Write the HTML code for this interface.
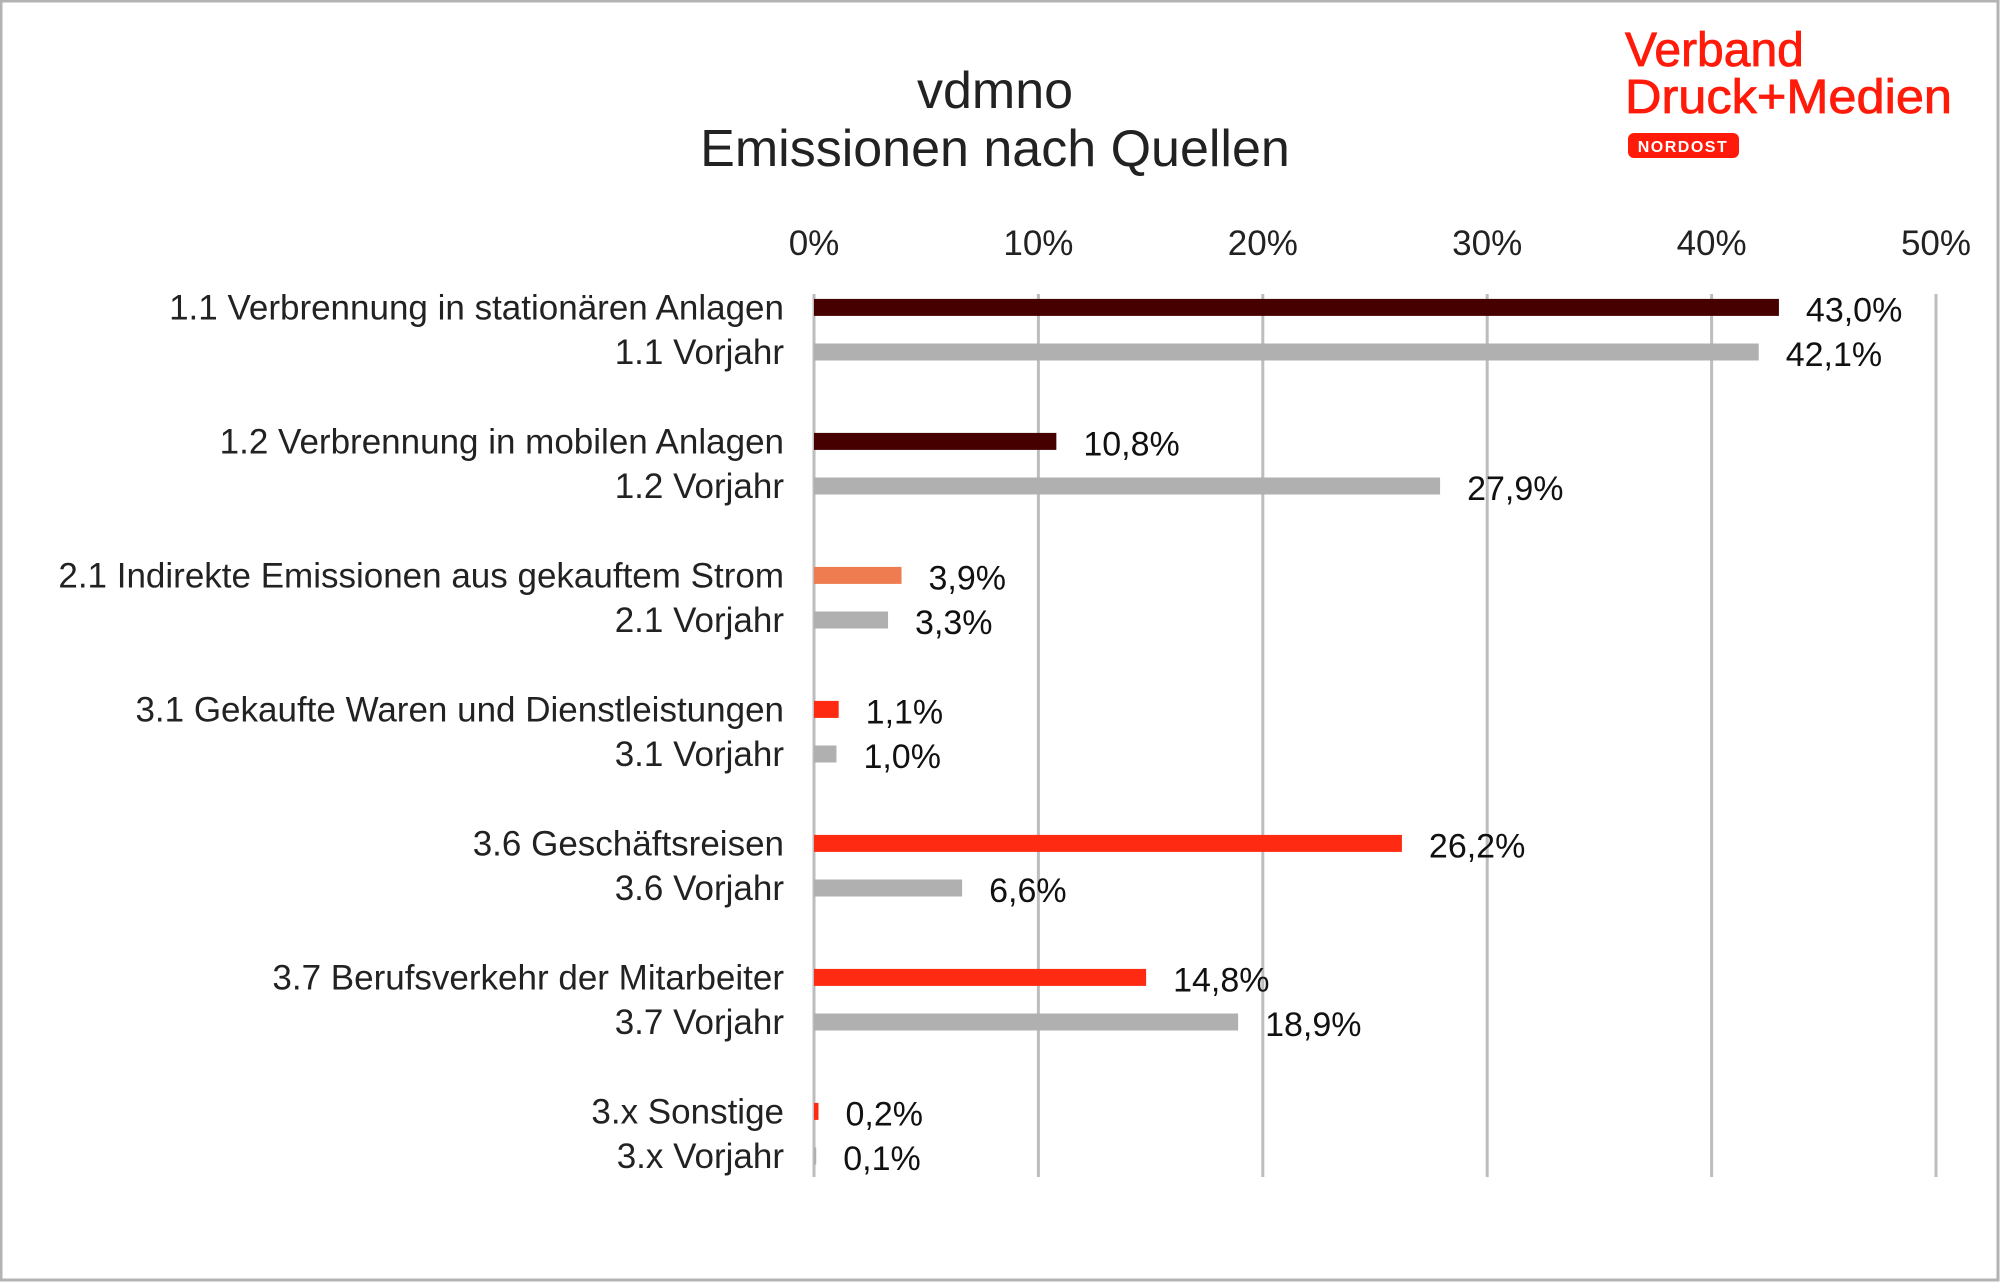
<!DOCTYPE html>
<html><head><meta charset="utf-8"><style>
html,body{margin:0;padding:0;background:#fff;}
svg{display:block;font-family:"Liberation Sans",Arial,sans-serif;}
</style></head><body>
<svg id="chart" width="2000" height="1282" viewBox="0 0 2000 1282" xmlns="http://www.w3.org/2000/svg">
<rect x="1" y="1" width="1997" height="1279" fill="#fff" stroke="#b3b3b3" stroke-width="3"/>
<text x="995" y="108" font-size="52" text-anchor="middle" fill="#222">vdmno</text>
<text x="995" y="166" font-size="52" text-anchor="middle" fill="#222">Emissionen nach Quellen</text>
<g>
<text x="1625" y="66" font-size="48" fill="#ff1a0a" stroke="#ff1a0a" stroke-width="0.8">Verband</text>
<text x="1625" y="113" font-size="48" fill="#ff1a0a" stroke="#ff1a0a" stroke-width="0.8" textLength="327" lengthAdjust="spacingAndGlyphs">Druck+Medien</text>
<rect x="1628" y="133" width="111" height="25" rx="6" fill="#ff1a0a"/>
<text x="1683" y="152" font-size="16" font-weight="bold" fill="#fff" text-anchor="middle" letter-spacing="1.5">NORDOST</text>
</g>
<g id="grid"></g><g id="bars"></g>
</svg>
<script>
const categories=["1.1 Verbrennung in stationären Anlagen","1.1 Vorjahr","1.2 Verbrennung in mobilen Anlagen","1.2 Vorjahr","2.1 Indirekte Emissionen aus gekauftem Strom","2.1 Vorjahr","3.1 Gekaufte Waren und Dienstleistungen","3.1 Vorjahr","3.6 Geschäftsreisen","3.6 Vorjahr","3.7 Berufsverkehr der Mitarbeiter","3.7 Vorjahr","3.x Sonstige","3.x Vorjahr"];
const values=[43.0,42.1,10.8,27.9,3.9,3.3,1.1,1.0,26.2,6.6,14.8,18.9,0.2,0.1];
const barColors=["#460000","#b0b0b0","#460000","#b0b0b0","#ee7c50","#b0b0b0","#ff2a12","#b0b0b0","#ff2a12","#b0b0b0","#ff2a12","#b0b0b0","#ff2a12","#b0b0b0"];
const ticks=[0,10,20,30,40,50];
const tickLabels=["0%","10%","20%","30%","40%","50%"];
const NS="http://www.w3.org/2000/svg";
const x0=814,pxPer=22.44;
const xs=v=>x0+v*pxPer;
const ys=i=>307.4+Math.floor(i/2)*134+(i%2)*44.6;
function mk(tag,attrs,parent){const e=document.createElementNS(NS,tag);for(const k in attrs)e.setAttribute(k,attrs[k]);parent.appendChild(e);return e;}
const grid=document.getElementById('grid'),bars=document.getElementById('bars');
ticks.forEach((t,i)=>{
  const l=mk('line',{x1:xs(t),x2:xs(t),y1:294,y2:1177,stroke:'#bdbdbd','stroke-width':3},grid);
  
  
  const tx=mk('text',{x:xs(t),y:255,'font-size':35,'text-anchor':'middle',fill:'#222'},grid);
  tx.textContent=tickLabels[i];
  
  
});
categories.forEach((c,i)=>{
  const y=ys(i);
  const lab=mk('text',{x:784,y:y+12,'font-size':35,'text-anchor':'end',fill:'#222'},bars);
  lab.textContent=c;
  
  
  const w=Math.max(values[i]*pxPer,2);
  const r=mk('rect',{x:x0,y:y-8.5,width:w,height:17,fill:barColors[i]},bars);
  
  
  const v=mk('text',{x:xs(values[i])+27,y:y+14,'font-size':34,fill:'#111'},bars);
  v.textContent=values[i].toFixed(1).replace('.',',')+'%';
  
  
});
</script>
</body></html>
